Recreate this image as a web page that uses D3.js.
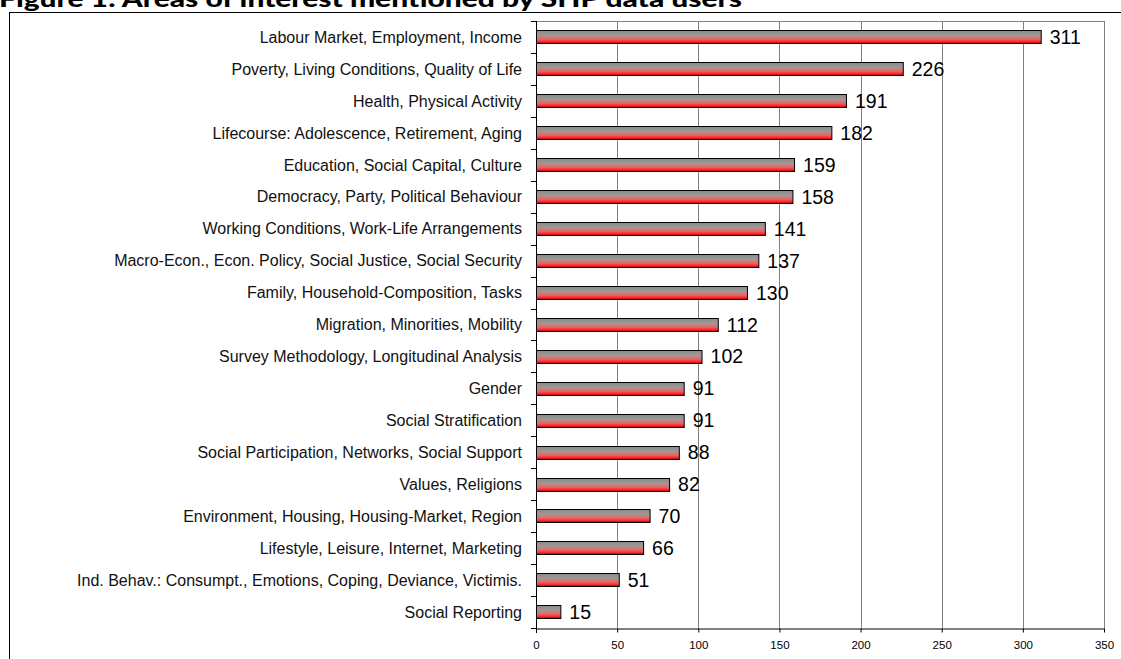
<!DOCTYPE html>
<html>
<head>
<meta charset="utf-8">
<script src="https://cdn.jsdelivr.net/npm/d3@7"></script>
<style>
  body { margin: 0; background: #fff; overflow: hidden; }
  svg { display: block; }
</style>
</head>
<body>
<div id="chart"></div>
<script>
// categories, top to bottom
var categories = [
    "Labour Market, Employment, Income",
    "Poverty, Living Conditions, Quality of Life",
    "Health, Physical Activity",
    "Lifecourse: Adolescence, Retirement, Aging",
    "Education, Social Capital, Culture",
    "Democracy, Party, Political Behaviour",
    "Working Conditions, Work-Life Arrangements",
    "Macro-Econ., Econ. Policy, Social Justice, Social Security",
    "Family, Household-Composition, Tasks",
    "Migration, Minorities, Mobility",
    "Survey Methodology, Longitudinal Analysis",
    "Gender",
    "Social Stratification",
    "Social Participation, Networks, Social Support",
    "Values, Religions",
    "Environment, Housing, Housing-Market, Region",
    "Lifestyle, Leisure, Internet, Marketing",
    "Ind. Behav.: Consumpt., Emotions, Coping, Deviance, Victimis.",
    "Social Reporting"
];
var mentions = [311, 226, 191, 182, 159, 158, 141, 137, 130, 112, 102, 91, 91, 88, 82, 70, 66, 51, 15];
var xTicks = [0, 50, 100, 150, 200, 250, 300, 350];
var title = "Figure 1: Areas of interest mentioned by SHP data users";

function init() {
    const w = 1121;
    const h = 659;
    var plot = { left: 536, right: 1104, top: 21, bottom: 628 };

    var data = categories.map(function (c, i) {
        return { name: c, value: mentions[i] };
    });

    var svg = d3.select("#chart")
        .append("svg")
        .attr("width", w)
        .attr("height", h);

    // gradient for the bars: gray on top, red below
    var grad = svg.append("defs").append("linearGradient")
        .attr("id", "barFill")
        .attr("x1", 0).attr("y1", 0).attr("x2", 0).attr("y2", 1);
    grad.append("stop").attr("offset", "0%").attr("stop-color", "#8a8a8a");
    grad.append("stop").attr("offset", "35%").attr("stop-color", "#a09898");
    grad.append("stop").attr("offset", "65%").attr("stop-color", "#e86868");
    grad.append("stop").attr("offset", "85%").attr("stop-color", "#ff2a2a");
    grad.append("stop").attr("offset", "100%").attr("stop-color", "#b00000");

    // title (partly cut off at the top)
    svg.append("text")
        .attr("x", -1)
        .attr("y", 6.5)
        .attr("font-family", "Lato, 'Open Sans', sans-serif")
        .attr("font-weight", "900")
        .attr("font-size", 23)
        .attr("textLength", 743)
        .attr("lengthAdjust", "spacingAndGlyphs")
        .attr("fill", "#000")
        .text(title);

    // outer frame
    svg.append("rect")
        .attr("x", 9.5)
        .attr("y", 12.5)
        .attr("width", w + 20)
        .attr("height", h + 20)
        .attr("fill", "none")
        .attr("stroke", "#000")
        .attr("stroke-width", 1);

    var xScale = d3.scaleLinear()
        .domain([0, 350])
        .range([plot.left, plot.right]);

    var yScale = d3.scaleBand()
        .domain(categories)
        .range([plot.top, plot.bottom])
        .paddingInner(0.58)
        .paddingOuter(0.29);

    var yBand = d3.scaleBand()
        .domain(categories)
        .range([plot.top, plot.bottom]);

    // gridlines
    svg.append("g")
        .selectAll("line")
        .data(xTicks.slice(1))
        .enter()
        .append("line")
        .attr("x1", (d) => Math.round(xScale(d)) + 0.5)
        .attr("x2", (d) => Math.round(xScale(d)) + 0.5)
        .attr("y1", plot.top)
        .attr("y2", plot.bottom)
        .attr("stroke", "#808080")
        .attr("stroke-width", 1);

    // top border of the plot area
    svg.append("line")
        .attr("x1", plot.left)
        .attr("x2", plot.right + 0.5)
        .attr("y1", plot.top + 0.5)
        .attr("y2", plot.top + 0.5)
        .attr("stroke", "#808080");

    // bars
    svg.append("g")
        .selectAll("rect")
        .data(data)
        .enter()
        .append("rect")
        .attr("x", xScale(0) + 0.5)
        .attr("y", (d) => Math.round(yScale(d.name)) + 0.5)
        .attr("width", (d) => xScale(d.value) - xScale(0))
        .attr("height", Math.round(yScale.bandwidth()))
        .attr("fill", "url(#barFill)")
        .attr("stroke", "#000")
        .attr("stroke-width", 1);

    // value labels
    svg.append("g")
        .selectAll("text")
        .data(data)
        .enter()
        .append("text")
        .attr("x", (d) => xScale(d.value) + 9)
        .attr("y", (d) => yBand(d.name) + yBand.bandwidth() / 2)
        .attr("dy", "0.36em")
        .attr("font-family", "'Liberation Sans', Arial, sans-serif")
        .attr("font-size", 19.5)
        .attr("fill", "#000")
        .text((d) => d.value);

    // y axis with ticks at band edges
    var yAxis = svg.append("g");
    yAxis.append("line")
        .attr("x1", plot.left + 0.5).attr("x2", plot.left + 0.5)
        .attr("y1", plot.top).attr("y2", plot.bottom + 5)
        .attr("stroke", "#000");
    yAxis.selectAll("line.tick")
        .data(d3.range(categories.length + 1))
        .enter()
        .append("line")
        .attr("class", "tick")
        .attr("x1", plot.left - 5)
        .attr("x2", plot.left + 0.5)
        .attr("y1", (i) => Math.round(plot.top + i * yBand.step()) + 0.5)
        .attr("y2", (i) => Math.round(plot.top + i * yBand.step()) + 0.5)
        .attr("stroke", "#000");
    yAxis.selectAll("text")
        .data(categories)
        .enter()
        .append("text")
        .attr("x", plot.left - 14)
        .attr("y", (d) => yBand(d) + yBand.bandwidth() / 2)
        .attr("dy", "0.36em")
        .attr("text-anchor", "end")
        .attr("font-family", "'Liberation Sans', Arial, sans-serif")
        .attr("font-size", 16)
        .attr("fill", "#111")
        .text((d) => d);

    // x axis
    var xAxis = d3.axisBottom(xScale)
        .tickValues(xTicks)
        .tickSize(4)
        .tickSizeOuter(0);
    var gx = svg.append("g")
        .attr("transform", "translate(0," + (plot.bottom + 0.5) + ")")
        .call(xAxis);
    gx.select(".domain").attr("stroke", "#000");
    gx.selectAll(".tick line").attr("stroke", "#000");
    gx.selectAll(".tick text")
        .attr("y", 12)
        .attr("font-family", "'Liberation Sans', Arial, sans-serif")
        .attr("font-size", 11.5)
        .attr("fill", "#000");
}
window.onload = init;
</script>
</body>
</html>
